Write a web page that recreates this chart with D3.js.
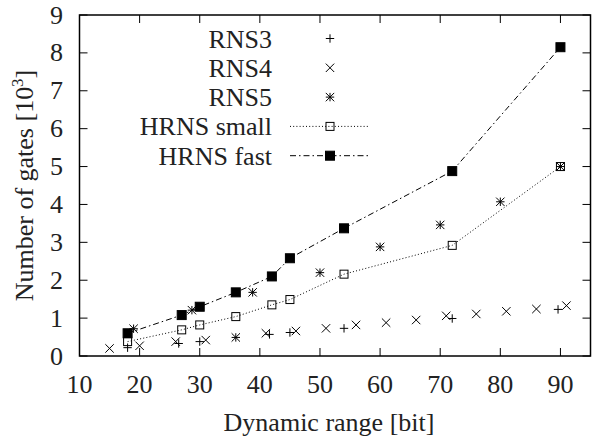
<!DOCTYPE html>
<html>
  <head>
    <meta charset="utf-8">
    <title>Number of gates vs dynamic range</title>
    <script src="https://d3js.org/d3.v7.min.js"></script>
    <style>
      body { margin: 0; background: #fff; }
    </style>
  </head>
  <body>
    <svg id="chart" width="595" height="448" font-family="'Liberation Serif', 'DejaVu Serif', 'Noto Serif', serif" style="font-family: 'Liberation Serif', 'DejaVu Serif', serif;"></svg>
    <script>
      // data (x: dynamic range in bit, y: gates in thousands)
      rns3X = [18, 26.5, 30, 41.6, 45, 54, 72, 89.6];
      rns3Y = [0.22, 0.33, 0.38, 0.57, 0.62, 0.73, 0.99, 1.23];
      rns4X = [15, 20, 26, 31, 41, 46, 51, 56, 61, 66, 71, 76, 81, 86, 91];
      rns4Y = [0.2, 0.27, 0.38, 0.42, 0.6, 0.66, 0.73, 0.82, 0.88, 0.95, 1.06, 1.11, 1.18, 1.24, 1.33];
      rns5X = [19, 28.7, 36, 38.8, 50, 60, 70, 80, 90];
      rns5Y = [0.72, 1.21, 0.49, 1.68, 2.2, 2.88, 3.46, 4.07, 5.0];
      hrnsX = [18, 27, 30, 36, 42, 45, 54, 72, 90];
      hrnsSmallY = [0.38, 0.69, 0.82, 1.04, 1.35, 1.49, 2.16, 2.92, 5.0];
      hrnsFastY = [0.6, 1.08, 1.3, 1.68, 2.1, 2.58, 3.37, 4.88, 8.15];
      xTicks = [10, 20, 30, 40, 50, 60, 70, 80, 90];
      yTicks = [0, 1, 2, 3, 4, 5, 6, 7, 8, 9];
      seriesNames = ["RNS3", "RNS4", "RNS5", "HRNS small", "HRNS fast"];

      svg = d3.select("#chart");
      margin = { top: 15, right: 4.5, bottom: 92, left: 79.5 };
      width = 595 - margin.left - margin.right;
      height = 448 - margin.top - margin.bottom;
      fontSize = 26;

      x = d3.scaleLinear().domain([10, 95]).range([margin.left, margin.left + width]);
      y = d3.scaleLinear().domain([0, 9]).range([margin.top + height, margin.top]);

      // point shapes like gnuplot pt 1..5
      function marker(sel, type) {
        var s = 4.2;
        if (type === "plus" || type === "star") {
          sel.append("path").attr("d", "M" + -s + ",0H" + s + "M0," + -s + "V" + s);
        }
        if (type === "cross" || type === "star") {
          sel.append("path").attr("d", "M" + -s + "," + -s + "L" + s + "," + s + "M" + -s + "," + s + "L" + s + "," + -s);
        }
        if (type === "box") {
          sel.append("rect").attr("x", -4).attr("y", -4).attr("width", 8).attr("height", 8)
            .attr("fill", "none");
        }
        if (type === "fbox") {
          sel.append("rect").attr("x", -4.5).attr("y", -4.5).attr("width", 9).attr("height", 9)
            .attr("fill", "#000");
        }
        sel.selectAll("path, rect").attr("stroke", "#000").attr("stroke-width", 1);
      }

      series = [
        { name: seriesNames[0], xs: rns3X, ys: rns3Y, pt: "plus", dash: null },
        { name: seriesNames[1], xs: rns4X, ys: rns4Y, pt: "cross", dash: null },
        { name: seriesNames[2], xs: rns5X, ys: rns5Y, pt: "star", dash: null },
        { name: seriesNames[3], xs: hrnsX, ys: hrnsSmallY, pt: "box", dash: "1,2.2" },
        { name: seriesNames[4], xs: hrnsX, ys: hrnsFastY, pt: "fbox", dash: "6,3,1.5,3" }
      ];

      // ticks (inside, mirrored)
      ticks = svg.append("g").attr("stroke", "#000").attr("stroke-width", 1);
      xTicks.forEach(function(t) {
        ticks.append("line").attr("x1", x(t)).attr("x2", x(t)).attr("y1", y(0)).attr("y2", y(0) - 8);
        ticks.append("line").attr("x1", x(t)).attr("x2", x(t)).attr("y1", y(9)).attr("y2", y(9) + 8);
      });
      yTicks.forEach(function(t) {
        ticks.append("line").attr("x1", x(10)).attr("x2", x(10) + 8).attr("y1", y(t)).attr("y2", y(t));
        ticks.append("line").attr("x1", x(95)).attr("x2", x(95) - 8).attr("y1", y(t)).attr("y2", y(t));
      });

      // tick labels
      svg.append("g").selectAll("text")
          .data(xTicks)
        .enter().append("text")
          .attr("x", function(d) { return x(d); })
          .attr("y", 393)
          .attr("text-anchor", "middle")
          .attr("font-size", fontSize)
          .attr("fill", "#222")
          .text(function(d) { return d; });
      svg.append("g").selectAll("text")
          .data(yTicks)
        .enter().append("text")
          .attr("x", 63)
          .attr("y", function(d) { return y(d) + 8.5; })
          .attr("text-anchor", "end")
          .attr("font-size", fontSize)
          .attr("fill", "#222")
          .text(function(d) { return d; });

      // axis titles
      svg.append("text")
        .attr("x", (x(10) + x(95)) / 2 - 6)
        .attr("y", 431)
        .attr("text-anchor", "middle")
        .attr("font-size", fontSize)
        .attr("fill", "#222")
        .text("Dynamic range [bit]");
      yTitle = svg.append("text")
        .attr("transform", "translate(33," + (margin.top + height / 2) + ") rotate(-90)")
        .attr("text-anchor", "middle")
        .attr("font-size", fontSize)
        .attr("fill", "#222");
      yTitle.append("tspan").text("Number of gates [10");
      yTitle.append("tspan").attr("font-size", 17).attr("dy", -10).text("3");
      yTitle.append("tspan").attr("dy", 10).text("]");

      // lines and points
      line = d3.line()
        .x(function(d) { return x(d[0]); })
        .y(function(d) { return y(d[1]); });
      series.forEach(function(s) {
        var pts = s.xs.map(function(v, i) { return [v, s.ys[i]]; });
        if (s.dash) {
          svg.append("path")
            .datum(pts)
            .attr("d", line)
            .attr("fill", "none")
            .attr("stroke", "#000")
            .attr("stroke-width", 1)
            .attr("stroke-dasharray", s.dash);
        }
        svg.append("g").selectAll("g")
            .data(pts)
          .enter().append("g")
            .attr("transform", function(d) { return "translate(" + x(d[0]) + "," + y(d[1]) + ")"; })
            .each(function() { marker(d3.select(this), s.pt); });
      });

      // legend
      legend = svg.append("g");
      series.forEach(function(s, i) {
        var ly = 38.5 + i * 29.3;
        legend.append("text")
          .attr("x", 272)
          .attr("y", ly + 9)
          .attr("text-anchor", "end")
          .attr("font-size", fontSize)
          .attr("fill", "#222")
          .text(s.name);
        if (s.dash) {
          legend.append("line")
            .attr("x1", 290).attr("x2", 369).attr("y1", ly).attr("y2", ly)
            .attr("stroke", "#000").attr("stroke-width", 1)
            .attr("stroke-dasharray", s.dash);
        }
        legend.append("g")
          .attr("transform", "translate(330," + ly + ")")
          .call(marker, s.pt);
      });

      // border
      svg.append("rect")
        .attr("x", x(10))
        .attr("y", y(9))
        .attr("width", x(95) - x(10))
        .attr("height", y(0) - y(9))
        .attr("fill", "none")
        .attr("stroke", "#000")
        .attr("stroke-width", 1.5);
    </script>
  </body>
</html>
